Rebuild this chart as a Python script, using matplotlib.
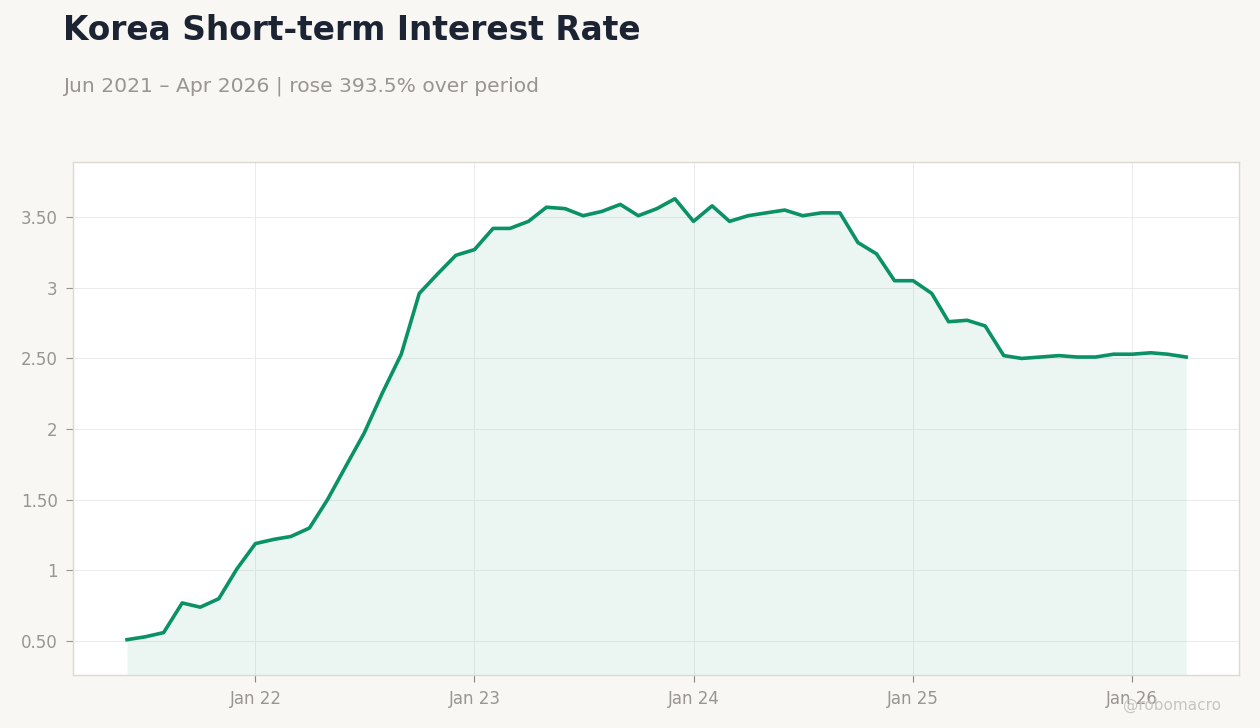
import matplotlib
matplotlib.use('Agg')
import matplotlib.pyplot as plt
import pandas as pd

# monthly values, Jun 2021 .. Apr 2026
months = pd.date_range('2021-06-01', '2026-04-01', freq='MS')
rates = [0.51, 0.53, 0.56, 0.77, 0.74, 0.80, 1.01,
         1.19, 1.22, 1.24, 1.30, 1.50, 1.74, 1.97, 2.26, 2.53, 2.96, 3.10, 3.23,
         3.27, 3.42, 3.42, 3.47, 3.57, 3.56, 3.51, 3.54, 3.59, 3.51, 3.56, 3.63,
         3.47, 3.58, 3.47, 3.51, 3.53, 3.55, 3.51, 3.53, 3.53, 3.32, 3.24, 3.05,
         3.05, 2.96, 2.76, 2.77, 2.73, 2.52, 2.50, 2.51, 2.52, 2.51, 2.51, 2.53,
         2.53, 2.54, 2.53, 2.51]
yticks = [0.5, 1, 1.5, 2, 2.5, 3, 3.5]
ytick_labels = ['0.50', '1', '1.50', '2', '2.50', '3', '3.50']
xticks = pd.to_datetime(['2022-01-01', '2023-01-01', '2024-01-01', '2025-01-01', '2026-01-01'])
xtick_labels = ['Jan 22', 'Jan 23', 'Jan 24', 'Jan 25', 'Jan 26']

bg = '#f8f7f4'
green = '#0a9166'
grey = '#999590'

fig = plt.figure(figsize=(12.6, 7.28), dpi=100, facecolor=bg)
ax = fig.add_axes([73 / 1260, 1 - 675 / 728, (1239 - 73) / 1260, (675 - 162) / 728])
ax.set_facecolor('white')

ymin, ymax = 0.26, 3.89
ax.fill_between(months, rates, ymin, color=green, alpha=0.08, linewidth=0)
ax.plot(months, rates, color=green, linewidth=2.6, solid_joinstyle='round')

ax.set_ylim(ymin, ymax)
ax.set_xlim(pd.Timestamp('2021-03-03'), pd.Timestamp('2026-06-28'))
ax.set_yticks(yticks)
ax.set_yticklabels(ytick_labels)
ax.set_xticks(xticks)
ax.set_xticklabels(xtick_labels)
ax.grid(True, color='#ebebeb', linewidth=0.7)
ax.set_axisbelow(True)
ax.tick_params(colors=grey, labelsize=12, length=5, width=0.8, pad=6)
ax.tick_params(axis='x', colors='#8a8580', labelcolor=grey)
for s in ax.spines.values():
    s.set_color('#ddd8d0')
    s.set_linewidth(1)

fig.text(63 / 1260, 1 - 31 / 728, 'Korea Short-term Interest Rate', fontsize=23.7,
         fontweight='bold', color='#1c2434', va='center')
fig.text(63 / 1260, 1 - 86 / 728, 'Jun 2021 – Apr 2026 | rose 393.5% over period',
         fontsize=14.6, color=grey, va='center')
fig.text(1221 / 1260, 1 - 705 / 728, '@robomacro', fontsize=11, color='#c8c5c0',
         ha='right', va='center')

fig.savefig('out.png', dpi=100, facecolor=bg)
